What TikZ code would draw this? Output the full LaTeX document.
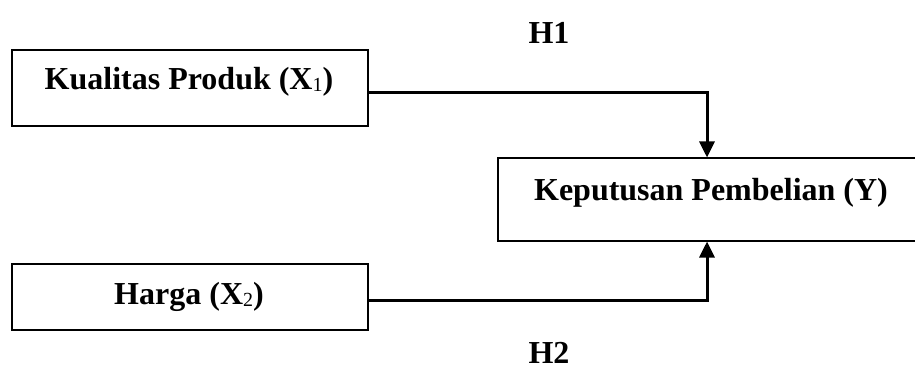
\documentclass[tikz,border=0pt]{standalone}
\usepackage{fontspec}
\setmainfont{Liberation Serif}
\usetikzlibrary{arrows.meta}
\newcommand{\sbx}[1]{\raisebox{-1.5pt}{\fontsize{20}{20}\selectfont\mdseries #1}}
\tikzset{
  box/.style={draw, line width=1.1pt, rectangle, inner sep=0pt},
  lbl/.style={font=\fontsize{32}{36}\selectfont\bfseries, inner sep=0pt},
  conn/.style={line width=3pt, -{Triangle[width=15pt,length=16pt]}}
}
\begin{document}
\begin{tikzpicture}[x=1pt,y=-1pt]
\useasboundingbox (0,0) rectangle (915,369);
\begin{scope}
\clip (0,0) rectangle (915,369);
\node[box, minimum width=356pt, minimum height=76pt] (b1) at (190,88) {};
\node[box, minimum width=356pt, minimum height=66pt] (b2) at (190,297) {};
\node[box, minimum width=428pt, minimum height=83pt] (y) at (712,199.5) {};
\end{scope}
\node[lbl] (t1) at (189,82) {Kualitas Produk (X\sbx{1})};
\node[lbl] (t2) at (189,297) {Harga (X\sbx{2})};
\node[lbl] (ty) at (711,193) {Keputusan Pembelian (Y)};
\node[lbl] (h1) at (549,33) {H1};
\node[lbl] (h2) at (549,353) {H2};
\draw[conn] ([yshift=-4pt]b1.east) -| ([xshift=-5pt]y.north);
\draw[conn] ([yshift=-3pt]b2.east) -| ([xshift=-5pt]y.south);
\end{tikzpicture}
\end{document}
